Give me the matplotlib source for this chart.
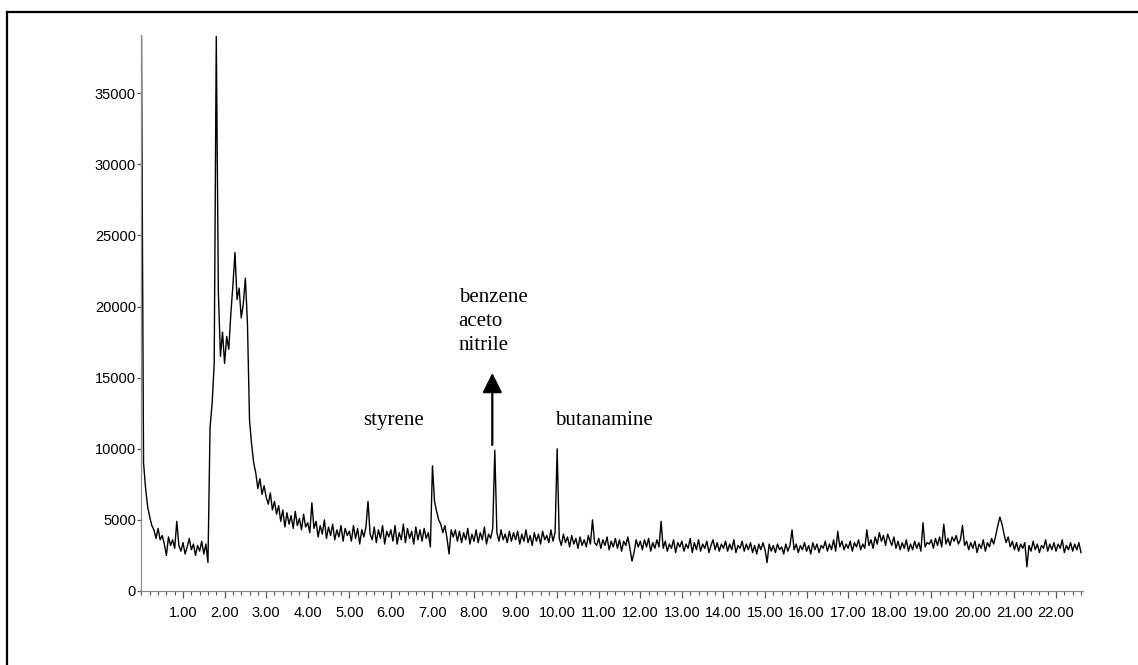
import numpy as np
import matplotlib
matplotlib.use("Agg")
import matplotlib.pyplot as plt
from matplotlib.lines import Line2D
from matplotlib.ticker import MultipleLocator

# Data: detector response, one value every 0.05 min
scan_step = 0.05
intensity = [
    39000, 9000, 7200, 5900, 5200, 4600, 4300, 3700, 4400, 3600, 3900, 3300, 2500, 3800, 3200, 3600, 3000, 4900, 3200, 2800,  # 0
    3400, 2600, 3100, 3700, 2900, 3300, 2500, 3200, 2800, 3500, 2600, 3300, 2000, 11500, 13200, 16000, 39000, 21000, 16500, 18200,  # 1
    16000, 17900, 17000, 19500, 21500, 23800, 20500, 21300, 19200, 20200, 22000, 18800, 12000, 10300, 9000, 8300, 7200, 7900, 6800, 7400,  # 2
    6600, 6100, 6900, 5700, 6300, 5400, 6000, 4900, 5700, 4500, 5500, 4700, 5300, 4400, 5600, 4600, 5100, 4300, 5400, 4500,  # 3
    4800, 4100, 6200, 4400, 4900, 3800, 4600, 4000, 5000, 3700, 4500, 3900, 4700, 3600, 4300, 3800, 4600, 3500, 4400, 3900,  # 4
    4200, 3500, 4600, 3700, 4400, 3300, 4300, 3800, 4500, 6300, 4000, 3600, 4500, 3400, 4300, 3700, 4600, 3300, 4200, 3800,  # 5
    4300, 3500, 4600, 3300, 4100, 3600, 4700, 3400, 4400, 3700, 4200, 3300, 4500, 3600, 4300, 3500, 4400, 3700, 4100, 3100,  # 6
    8800, 6300, 5600, 5000, 4700, 4100, 4600, 3700, 2600, 4300, 3800, 4300, 3500, 4200, 3400, 4100, 3600, 4400, 3300, 4000,  # 7
    3500, 4300, 3400, 4100, 3600, 4500, 3300, 4000, 3700, 4400, 9900, 4100, 3500, 4300, 3600, 4000, 3400, 4200, 3500, 4100,  # 8
    3600, 4200, 3300, 4000, 3500, 4300, 3400, 3900, 3200, 4100, 3500, 4000, 3300, 4200, 3600, 3900, 3400, 4300, 3500, 4100,  # 9
    10000, 3700, 3200, 4000, 3400, 3800, 3100, 3900, 3300, 3700, 3000, 3800, 3200, 3600, 3100, 3900, 3300, 5000, 3400, 3200,  # 10
    3700, 3000, 3600, 3200, 3800, 2900, 3500, 3100, 3700, 3000, 3600, 2800, 3500, 3200, 3800, 3000, 2100, 2700, 3600, 3100,  # 11
    3500, 2900, 3600, 3100, 3700, 2800, 3400, 3000, 3600, 3100, 4900, 3000, 3500, 2800, 3300, 3000, 3600, 2700, 3400, 3100,  # 12
    3500, 2800, 3300, 3000, 3700, 2700, 3400, 2900, 3600, 2800, 3300, 3000, 3500, 2700, 3200, 3600, 2900, 3400, 2800, 3300,  # 13
    3000, 3500, 2800, 3300, 2900, 3600, 2700, 3200, 3000, 3500, 2800, 3300, 2900, 3400, 2700, 3200, 2600, 3300, 2900, 3400,  # 14
    2900, 2000, 3300, 2800, 3200, 2700, 3300, 2900, 3100, 2600, 3300, 2800, 3200, 4300, 2900, 3300, 2700, 3200, 2900, 3400,  # 15
    2800, 3200, 2600, 3400, 2900, 3300, 2700, 3200, 3000, 3500, 2800, 3300, 2900, 3600, 2800, 4200, 3100, 3500, 2900, 3300,  # 16
    3000, 3500, 2800, 3400, 3100, 3600, 2900, 3300, 3000, 4300, 3200, 3600, 3000, 3800, 3300, 4100, 3500, 3900, 3200, 4000,  # 17
    3600, 3200, 3800, 3000, 3500, 2900, 3400, 3000, 3600, 2800, 3300, 2900, 3500, 3000, 3400, 2800, 4800, 3100, 3400, 3300,  # 18
    3600, 3000, 3700, 3200, 3800, 3100, 4700, 3300, 3700, 3200, 3800, 3500, 3900, 3300, 3600, 4600, 3200, 3500, 2900, 3400,  # 19
    3000, 3500, 2700, 3300, 3000, 3600, 2800, 3400, 3100, 3700, 3300, 3900, 4600, 5200, 4700, 4000, 3400, 3800, 3100, 3500,  # 20
    2900, 3400, 2800, 3300, 3000, 3400, 1700, 3200, 2800, 3500, 2900, 3300, 2700, 3200, 3000, 3600, 2800, 3300, 2900, 3400,  # 21
    2800, 3300, 3000, 3600, 2700, 3200, 2900, 3400, 2800, 3300, 2900, 3400, 2700,  # 22
]
times = np.arange(len(intensity)) * scan_step

x_major = list(range(1, 23))
x_labels = [f"{v:.2f}" for v in x_major]
y_ticks = [0, 5000, 10000, 15000, 20000, 25000, 30000, 35000]

# peak labels
peak_names = ["styrene", "benzene\naceto\nnitrile", "butanamine"]

fig = plt.figure(figsize=(11.38, 6.65), dpi=100)
ax = fig.add_axes([0.1243, 0.1113, 0.8274, 0.8361])

ax.plot(times, intensity, color="black", lw=1.0)

ax.set_xlim(0, 22.65)
ax.set_ylim(0, 39100)

for s in ["top", "right"]:
    ax.spines[s].set_visible(False)
for s in ["left", "bottom"]:
    ax.spines[s].set_color("#8a8a8a")
    ax.spines[s].set_linewidth(0.9)

ax.set_xticks(x_major)
ax.set_xticklabels(x_labels)
ax.xaxis.set_minor_locator(MultipleLocator(0.2))
ax.set_yticks(y_ticks)
ax.set_yticklabels([str(v) for v in y_ticks])

ax.tick_params(axis="both", which="major", direction="out", color="#555555",
               labelsize=10.5, width=0.9)
ax.tick_params(axis="x", which="major", length=5, pad=6)
ax.tick_params(axis="x", which="minor", length=3, color="#555555", width=0.8)
ax.tick_params(axis="y", which="major", length=3, pad=1)
for lab in ax.get_xticklabels() + ax.get_yticklabels():
    lab.set_fontfamily("Liberation Sans")

serif = dict(fontfamily="Liberation Serif", fontsize=15, color="black")
ax.text(5.33, 11700, peak_names[0], ha="left", va="baseline", **serif)
ax.text(7.63, 21300, peak_names[1], ha="left", va="top", linespacing=1.35, **serif)
ax.text(9.94, 11700, peak_names[2], ha="left", va="baseline", **serif)

ax.annotate("", xy=(8.44, 15330), xytext=(8.44, 10270),
            arrowprops=dict(arrowstyle="-|>,head_length=0.6,head_width=0.3",
                            mutation_scale=20, lw=1.6, color="black",
                            shrinkA=0, shrinkB=0))

# frame lines at the top and left edge of the picture
fx = 7 / 1138
fy = 1 - 12 / 665
fig.add_artist(Line2D([fx, 1], [fy, fy], transform=fig.transFigure, color="black", lw=1.6))
fig.add_artist(Line2D([fx, fx], [0, fy], transform=fig.transFigure, color="black", lw=1.6))

fig.savefig("out.png", dpi=100)
